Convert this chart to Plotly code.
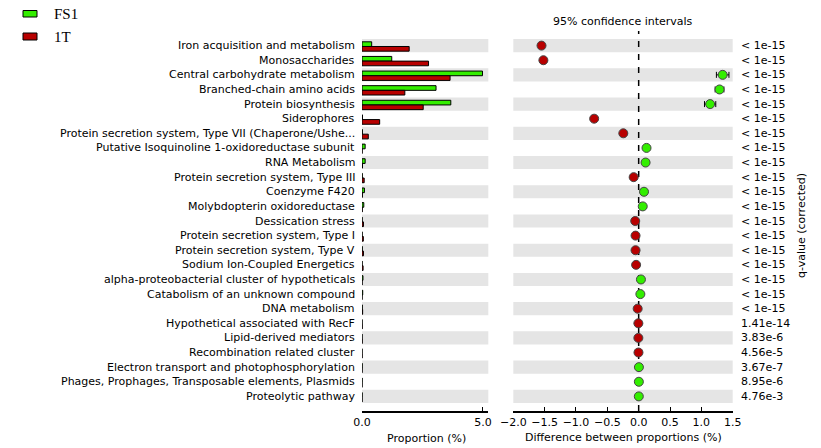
import plotly.graph_objects as go

W, H = 821, 448

categories = [
    "Iron acquisition and metabolism",
    "Monosaccharides",
    "Central carbohydrate metabolism",
    "Branched-chain amino acids",
    "Protein biosynthesis",
    "Siderophores",
    "Protein secretion system, Type VII (Chaperone/Ushe...",
    "Putative Isoquinoline 1-oxidoreductase subunit",
    "RNA Metabolism",
    "Protein secretion system, Type III",
    "Coenzyme F420",
    "Molybdopterin oxidoreductase",
    "Dessication stress",
    "Protein secretion system, Type I",
    "Protein secretion system, Type V",
    "Sodium Ion-Coupled Energetics",
    "alpha-proteobacterial cluster of hypotheticals",
    "Catabolism of an unknown compound",
    "DNA metabolism",
    "Hypothetical associated with RecF",
    "Lipid-derived mediators",
    "Recombination related cluster",
    "Electron transport and photophosphorylation",
    "Phages, Prophages, Transposable elements, Plasmids",
    "Proteolytic pathway",
]

# mean proportions (%) per group
fs1 = [0.40, 1.23, 4.98, 3.06, 3.67, 0.02, 0.015, 0.13, 0.13, 0.01, 0.10, 0.075,
       0.005, 0.005, 0.01, 0.004, 0.04, 0.03, 0.01, 0.003, 0.002, 0.002, 0.006, 0.005, 0.004]
t1 = [1.95, 2.75, 3.64, 1.77, 2.53, 0.73, 0.26, 0.005, 0.02, 0.09, 0.015, 0.01,
      0.06, 0.055, 0.06, 0.045, 0.003, 0.003, 0.026, 0.008, 0.007, 0.005, 0.002, 0.002, 0.002]

# difference between proportions (FS1 - 1T) with 95% CI half-widths
diff = [-1.55, -1.52, 1.34, 1.29, 1.14, -0.71, -0.245, 0.125, 0.11, -0.08, 0.085, 0.065,
        -0.055, -0.05, -0.05, -0.041, 0.036, 0.027, -0.016, -0.005, -0.005, -0.003, 0.004, 0.003, 0.002]
ci = [0.04, 0.03, 0.10, 0.07, 0.09, 0.03, 0.02, 0.01, 0.01, 0.01, 0.01, 0.01,
      0.01, 0.01, 0.01, 0.01, 0.01, 0.01, 0.01, 0.005, 0.005, 0.005, 0.005, 0.005, 0.005]

qvals = ["< 1e-15"] * 19 + ["1.41e-14", "3.83e-6", "4.56e-5", "3.67e-7", "8.95e-6", "4.76e-3"]

GREEN = "#33ee00"
RED = "#b80000"
BAND = "#e5e5e5"
FONT = "DejaVu Sans"


def px(x):
    return x / W


def py(y):
    return 1 - y / H


rows = list(range(len(categories)))

fig = go.Figure()

# left panel: mean proportions
fig.add_trace(go.Bar(
    y=rows, x=fs1, orientation="h", width=0.32, offset=-0.26,
    marker=dict(color=GREEN, line=dict(color="black", width=1)),
    xaxis="x", yaxis="y", showlegend=False,
))
fig.add_trace(go.Bar(
    y=rows, x=t1, orientation="h", width=0.32, offset=0.06,
    marker=dict(color=RED, line=dict(color="black", width=1)),
    xaxis="x", yaxis="y", showlegend=False,
))

# right panel: differences with confidence intervals
fig.add_trace(go.Scatter(
    x=diff, y=rows, mode="markers",
    error_x=dict(type="data", array=ci, color="black", thickness=1, width=3),
    marker=dict(size=9, color=[GREEN if d > 0 else RED for d in diff],
                line=dict(color="#444444", width=1)),
    xaxis="x2", yaxis="y", showlegend=False,
))

shapes = []
for i in rows:
    if i % 2 == 0:
        for xr in ("x domain", "x2 domain"):
            shapes.append(dict(type="rect", xref=xr, yref="y", x0=0, x1=1,
                               y0=i - 0.45, y1=i + 0.45, fillcolor=BAND,
                               line=dict(width=0), layer="below"))

# zero reference line
shapes.append(dict(type="line", xref="x2", yref="y domain", x0=0, x1=0, y0=0, y1=1,
                   line=dict(color="black", width=1.5, dash="6px,7px"), layer="below"))

# legend boxes
shapes.append(dict(type="rect", xref="paper", yref="paper", x0=px(23), x1=px(37),
                   y0=py(17), y1=py(10.5), fillcolor=GREEN, line=dict(color="black", width=1)))
shapes.append(dict(type="rect", xref="paper", yref="paper", x0=px(23), x1=px(37),
                   y0=py(40), y1=py(33), fillcolor=RED, line=dict(color="black", width=1)))

annotations = []
for i, c in enumerate(categories):
    annotations.append(dict(x=px(357), y=i, xref="paper", yref="y", text=c,
                            showarrow=False, xanchor="right", yanchor="middle",
                            font=dict(family=FONT, size=11, color="black")))
for i, q in enumerate(qvals):
    annotations.append(dict(x=px(739), y=i, xref="paper", yref="y", text=q,
                            showarrow=False, xanchor="left", yanchor="middle",
                            font=dict(family=FONT, size=11, color="black")))

annotations += [
    dict(x=px(52), y=py(14), xref="paper", yref="paper", text="FS1", showarrow=False,
         xanchor="left", yanchor="middle", font=dict(family="Liberation Serif", size=15, color="black")),
    dict(x=px(52), y=py(37), xref="paper", yref="paper", text="1T", showarrow=False,
         xanchor="left", yanchor="middle", font=dict(family="Liberation Serif", size=15, color="black")),
    dict(x=px(623), y=py(21), xref="paper", yref="paper", text="95% confidence intervals",
         showarrow=False, xanchor="center", yanchor="middle",
         font=dict(family=FONT, size=11, color="black")),
    dict(x=px(426), y=py(438), xref="paper", yref="paper", text="Proportion (%)",
         showarrow=False, xanchor="center", yanchor="middle",
         font=dict(family=FONT, size=11, color="black")),
    dict(x=px(623), y=py(437), xref="paper", yref="paper", text="Difference between proportions (%)",
         showarrow=False, xanchor="center", yanchor="middle",
         font=dict(family=FONT, size=11, color="black")),
    dict(x=px(801), y=py(226), xref="paper", yref="paper", text="q-value (corrected)",
         showarrow=False, xanchor="center", yanchor="middle", textangle=-90,
         font=dict(family=FONT, size=11, color="black")),
]

axis_common = dict(showgrid=False, zeroline=False, showline=True, linecolor="black",
                   linewidth=1.5, ticks="inside", ticklen=4, tickwidth=1, tickcolor="black",
                   tickfont=dict(family=FONT, size=11, color="black"), mirror=False,
                   automargin=False)

fig.update_layout(
    template="none",
    width=W, height=H, autosize=False,
    margin=dict(l=0, r=0, t=0, b=0, pad=0, autoexpand=False),
    paper_bgcolor="white", plot_bgcolor="rgba(0,0,0,0)",
    barmode="overlay",
    xaxis=dict(domain=[px(362), px(488.3)], range=[0, 5.22], anchor="y",
               tickvals=[0, 5], tickformat=".1f", **axis_common),
    xaxis2=dict(domain=[px(513.3), px(732.7)], range=[-2.0, 1.5], anchor="y",
                tickvals=[-2.0, -1.5, -1.0, -0.5, 0.0, 0.5, 1.0, 1.5], tickformat=".1f",
                **axis_common),
    yaxis=dict(domain=[py(411), py(31)], range=[25, -1], showticklabels=False,
               showgrid=False, zeroline=False, showline=False, ticks="", automargin=False),
    shapes=shapes,
    annotations=annotations,
)

fig.write_html("out.html")
